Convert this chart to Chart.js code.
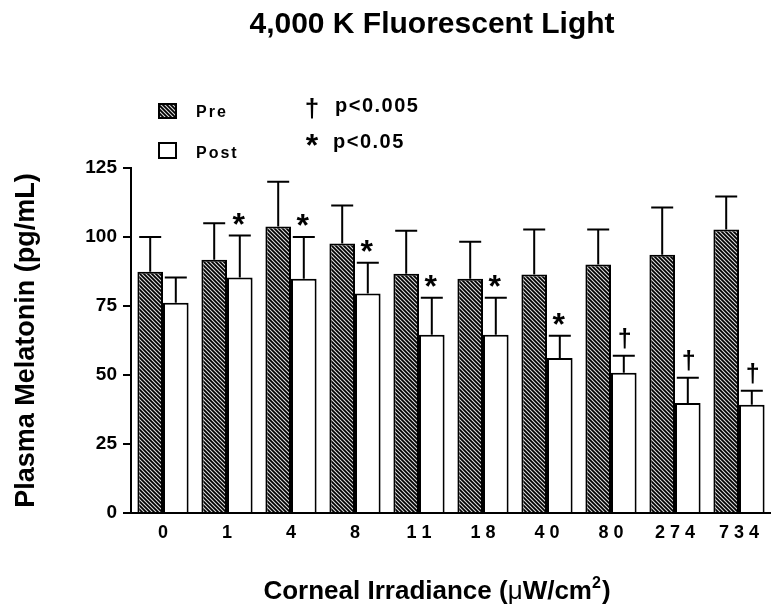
<!DOCTYPE html>
<html><head><meta charset="utf-8">
<script src="https://cdn.jsdelivr.net/npm/chart.js@4/dist/chart.umd.min.js"></script>
<style>html,body{margin:0;padding:0;background:#fff}#wrap{width:771px;height:611px}</style>
</head><body><div id="wrap"><canvas id="c" width="771" height="611"></canvas></div>
<script>
const categories = ["0","1","4","8","11","18","40","80","274","734"];
const preMeans  = [87.4, 91.8, 103.8, 97.6, 86.7, 84.9, 86.4, 90.0, 93.6, 102.7];
const preErr    = [12.6, 13.2, 16.2, 13.8, 15.6, 13.4, 16.3, 12.7, 17.1, 12.0];
const postMeans = [76.2, 85.3, 84.9, 79.5, 64.6, 64.6, 56.2, 50.8, 39.9, 39.2];
const postErr   = [9.1, 15.2, 15.1, 11.2, 13.4, 13.4, 8.0, 6.2, 9.1, 5.1];
const postMarks = ["", "*", "*", "*", "*", "*", "*", "\u2020", "\u2020", "\u2020"];
const yTickValues = [0, 25, 50, 75, 100, 125];
const seriesNames = ["Pre", "Post"];
const sigLabels = ["p<0.005", "p<0.05"];
const sigSymbols = ["\u2020", "*"];
const chartTitle = "4,000 K Fluorescent Light";
// x-axis title pieces: [text, style] where style is 'b' bold, 'n' normal, 's' superscript
const xTitleParts = [["Corneal Irradiance (", "b"], ["\u03BC", "n"], ["W/cm", "b"], ["2", "s"], [")", "b"]];
const yTitle = "Plasma Melatonin (pg/mL)";

const FONT = "'Liberation Sans', Arial, Helvetica, sans-serif";

function makePattern() {
  const t = document.createElement('canvas');
  t.width = 4; t.height = 4;
  const g = t.getContext('2d');
  g.fillStyle = '#000'; g.fillRect(0, 0, 4, 4);
  g.strokeStyle = '#dcdcdc'; g.lineWidth = 1.1;
  for (const c of [-4, 0, 4]) { g.beginPath(); g.moveTo(c - 1, -1); g.lineTo(c + 5, 5); g.stroke(); }
  return document.getElementById('c').getContext('2d').createPattern(t, 'repeat');
}
const hatch = makePattern();

const errorBars = {
  id: 'errorBars',
  afterDatasetsDraw(chart) {
    const ctx = chart.ctx;
    const ys = chart.scales.y;
    const errs = [preErr, postErr];
    const means = [preMeans, postMeans];
    ctx.save();
    ctx.strokeStyle = '#000'; ctx.lineWidth = 2;
    for (let d = 0; d < 2; d++) {
      const meta = chart.getDatasetMeta(d);
      meta.data.forEach((bar, i) => {
        const x = bar.x;
        const yTop = bar.y;
        const yE = ys.getPixelForValue(means[d][i] + errs[d][i]);
        ctx.beginPath();
        ctx.moveTo(x, yTop); ctx.lineTo(x, yE);
        ctx.moveTo(x - 11, yE); ctx.lineTo(x + 11, yE);
        ctx.stroke();
        if (d === 1 && postMarks[i]) {
          ctx.fillStyle = '#000';
          ctx.textAlign = 'center';
          ctx.textBaseline = 'alphabetic';
          if (postMarks[i] === '*') {
            ctx.font = 'bold 32px ' + FONT;
            ctx.fillText('*', x - 1, yE - 1);
          } else {
            ctx.font = 'bold 25px ' + FONT;
            ctx.fillText('\u2020', x + 1, yE - 9);
          }
        }
      });
    }
    ctx.restore();
  }
};

const textPlugin = {
  id: 'customText',
  afterDraw(chart) {
    const ctx = chart.ctx;
    ctx.save();
    ctx.fillStyle = '#000';
    // main title
    ctx.textAlign = 'center'; ctx.textBaseline = 'alphabetic';
    ctx.font = 'bold 30px ' + FONT;
    ctx.fillText(chartTitle, 432, 33);
    // x-axis title with superscript
    const fonts = { b: 'bold 26px ' + FONT, n: '26px ' + FONT, s: 'bold 16px ' + FONT };
    let total = 0;
    for (const [t, s] of xTitleParts) { ctx.font = fonts[s]; total += ctx.measureText(t).width + (s === 's' ? 1 : 0); }
    let x = 437 - total / 2;
    const base = 599;
    ctx.textAlign = 'left';
    for (const [t, s] of xTitleParts) {
      ctx.font = fonts[s];
      ctx.fillText(t, x, s === 's' ? base - 11 : base);
      x += ctx.measureText(t).width + (s === 's' ? 1 : 0);
    }
    // legend swatches
    ctx.lineWidth = 2; ctx.strokeStyle = '#000';
    ctx.fillStyle = hatch; ctx.fillRect(159, 104, 17, 14); ctx.strokeRect(159, 104, 17, 14);
    ctx.fillStyle = '#fff'; ctx.fillRect(159, 143, 17, 15); ctx.strokeRect(159, 143, 17, 15);
    ctx.fillStyle = '#000';
    ctx.textAlign = 'left'; ctx.textBaseline = 'alphabetic';
    ctx.font = 'bold 16px ' + FONT;
    try { ctx.letterSpacing = '2px'; } catch (e) {}
    ctx.fillText(seriesNames[0], 196, 117);
    ctx.fillText(seriesNames[1], 196, 158);
    ctx.font = 'bold 20px ' + FONT;
    try { ctx.letterSpacing = '1.5px'; } catch (e) {}
    ctx.fillText(sigLabels[0], 335, 112);
    ctx.fillText(sigLabels[1], 333, 148);
    try { ctx.letterSpacing = '0px'; } catch (e) {}
    ctx.textAlign = 'center';
    ctx.font = 'bold 26px ' + FONT;
    ctx.fillText(sigSymbols[0], 312, 117);
    ctx.font = 'bold 32px ' + FONT;
    ctx.fillText(sigSymbols[1], 312, 156);
    ctx.restore();
  }
};

new Chart(document.getElementById('c'), {
  type: 'bar',
  data: {
    labels: categories,
    datasets: [
      { label: seriesNames[0], data: preMeans, backgroundColor: hatch, borderColor: '#000', borderWidth: 2, borderSkipped: 'bottom' },
      { label: seriesNames[1], data: postMeans, backgroundColor: '#fff', borderColor: '#000', borderWidth: 2, borderSkipped: 'bottom' }
    ]
  },
  options: {
    responsive: false,
    animation: false,
    devicePixelRatio: 1,
    layout: { padding: { left: 0, right: 0, top: 168, bottom: 0 } },
    datasets: { bar: { categoryPercentage: 0.8, barPercentage: 1.0 } },
    plugins: {
      legend: { display: false },
      tooltip: { enabled: false },
      title: { display: false }
    },
    scales: {
      x: {
        offset: true,
        grid: { display: true, drawOnChartArea: false, drawTicks: false, color: '#000' },
        border: { display: true, color: '#000', width: 2 },
        ticks: {
          color: '#000', padding: 9, maxRotation: 0, autoSkip: false,
          font: { family: FONT, size: 18, weight: 'bold', lineHeight: 1.2 },
          callback: function (v, i) { return categories[i].split('').join(' '); }
        },
        title: { display: false },
        afterFit(scale) { scale.height = 98; }
      },
      y: {
        min: 0, max: 125,
        afterBuildTicks(scale) { scale.ticks = yTickValues.map(v => ({ value: v })); },
        grid: { display: true, drawOnChartArea: false, drawTicks: true, tickLength: 8, color: '#000', lineWidth: 2 },
        border: { display: true, color: '#000', width: 2 },
        ticks: {
          color: '#000', padding: 6,
          font: { family: FONT, size: 19, weight: 'bold', lineHeight: 1.2 }
        },
        title: {
          display: true, text: yTitle, color: '#000',
          font: { family: FONT, size: 27, weight: 'bold', lineHeight: 1.2 },
          padding: { top: 10, bottom: 0 }
        },
        afterFit(scale) { scale.width = 131; }
      }
    }
  },
  plugins: [errorBars, textPlugin]
});
</script>
</body></html>
